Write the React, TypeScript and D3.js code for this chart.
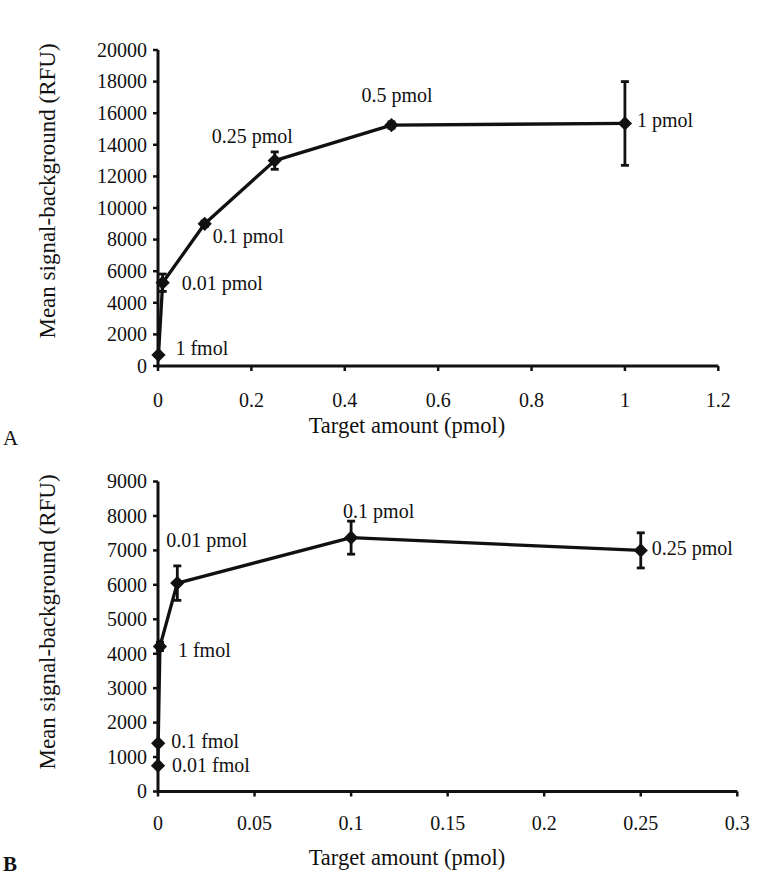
import React, { useEffect } from 'react';
import * as d3 from 'd3';

const W = 779;
const H = 878;

// Panel A data
const topX = [0.001, 0.01, 0.1, 0.25, 0.5, 1];
const topY = [700, 5270, 9000, 13000, 15250, 15350];
const topErr = [80, 550, 180, 550, 200, 2650];
const topLabels = ['1 fmol', '0.01 pmol', '0.1 pmol', '0.25 pmol', '0.5 pmol', '1 pmol'];
const topLabelDx = [17, 19, 8, -63, -30, 12];
const topLabelDy = [0, 7, 19, -18, -23, 4];
const topXTicks = [0, 0.2, 0.4, 0.6, 0.8, 1, 1.2];
const topYTicks = [0, 2000, 4000, 6000, 8000, 10000, 12000, 14000, 16000, 18000, 20000];

// Panel B data
const botX = [0.00001, 0.0001, 0.001, 0.01, 0.1, 0.25];
const botY = [750, 1400, 4210, 6050, 7370, 7000];
const botErr = [40, 60, 120, 500, 480, 510];
const botLabels = ['0.01 fmol', '0.1 fmol', '1 fmol', '0.01 pmol', '0.1 pmol', '0.25 pmol'];
const botLabelDx = [14, 13, 18, -11, -8, 11];
const botLabelDy = [6, 5, 11, -36, -20, 5];
const botXTicks = [0, 0.05, 0.1, 0.15, 0.2, 0.25, 0.3];
const botYTicks = [0, 1000, 2000, 3000, 4000, 5000, 6000, 7000, 8000, 9000];

const FONT = '"Liberation Serif", "Times New Roman", serif';
const INK = '#111';

type PanelProps = {
  xs: number[];
  ys: number[];
  errs: number[];
  labels: string[];
  ldx: number[];
  ldy: number[];
  xTicks: number[];
  yTicks: number[];
  xRange: [number, number];
  yRange: [number, number];
  tickBase: number;
  titleBase: number;
  yTitleCenter: number;
  letter: string;
  letterY: number;
  letterBold: boolean;
};

const diamond = (() => {
  const sym: any = (d3 as any).symbolDiamond2 || d3.symbolDiamond;
  return d3.symbol().type(sym).size(130)() as string;
})();

function Panel(p: PanelProps) {
  const x = d3.scaleLinear().domain([p.xTicks[0], p.xTicks[p.xTicks.length - 1]]).range(p.xRange);
  const y = d3.scaleLinear().domain([p.yTicks[0], p.yTicks[p.yTicks.length - 1]]).range(p.yRange);
  const line = d3
    .line<number>()
    .x((_, i) => x(p.xs[i]))
    .y((d) => y(d));
  const x0 = p.xRange[0];
  const y0 = p.yRange[0];
  return (
    <g>
      {/* axes */}
      <line x1={x0} x2={p.xRange[1]} y1={y0} y2={y0} stroke={INK} strokeWidth={3} />
      <line x1={x0} x2={x0} y1={y0 + 1.5} y2={p.yRange[1]} stroke={INK} strokeWidth={3} />
      {p.xTicks.map((t) => (
        <g key={'xt' + t}>
          <line x1={x(t)} x2={x(t)} y1={y0} y2={y0 + 5} stroke={INK} strokeWidth={2.5} />
          <text x={x(t)} y={p.tickBase} textAnchor="middle" fontFamily={FONT} fontSize={20} fill={INK}>
            {String(t)}
          </text>
        </g>
      ))}
      {p.yTicks.map((t) => (
        <g key={'yt' + t}>
          <line x1={x0 - 5} x2={x0} y1={y(t)} y2={y(t)} stroke={INK} strokeWidth={2.5} />
          <text
            x={x0 - 11}
            y={y(t)}
            dy="0.34em"
            textAnchor="end"
            fontFamily={FONT}
            fontSize={20}
            fill={INK}
          >
            {String(t)}
          </text>
        </g>
      ))}
      <text x={407} y={p.titleBase} textAnchor="middle" fontFamily={FONT} fontSize={22.5} fill={INK}>
        Target amount (pmol)
      </text>
      <text
        transform={`translate(55,${p.yTitleCenter}) rotate(-90)`}
        textAnchor="middle"
        fontFamily={FONT}
        fontSize={23}
        fill={INK}
      >
        Mean signal-background (RFU)
      </text>
      <text
        x={3}
        y={p.letterY}
        fontFamily={FONT}
        fontSize={21}
        fontWeight={p.letterBold ? 'bold' : 'normal'}
        fill={INK}
      >
        {p.letter}
      </text>
      {/* data line */}
      <path d={line(p.ys) || ''} fill="none" stroke={INK} strokeWidth={3.3} strokeLinejoin="round" />
      {/* error bars */}
      {p.ys.map((v, i) => {
        const cx = x(p.xs[i]);
        const top = y(v + p.errs[i]);
        const bot = y(v - p.errs[i]);
        return (
          <g key={'e' + i} stroke={INK} strokeWidth={2.8}>
            <line x1={cx} x2={cx} y1={top} y2={bot} />
            <line x1={cx - 4} x2={cx + 4} y1={top} y2={top} />
            <line x1={cx - 4} x2={cx + 4} y1={bot} y2={bot} />
          </g>
        );
      })}
      {/* markers */}
      {p.ys.map((v, i) => (
        <path key={'m' + i} d={diamond} transform={`translate(${x(p.xs[i])},${y(v)})`} fill={INK} />
      ))}
      {/* labels */}
      {p.ys.map((v, i) => (
        <text
          key={'l' + i}
          x={x(p.xs[i]) + p.ldx[i]}
          y={y(v) + p.ldy[i]}
          fontFamily={FONT}
          fontSize={20}
          fill={INK}
        >
          {p.labels[i]}
        </text>
      ))}
    </g>
  );
}

export default function App() {
  useEffect(() => {
    document.body.style.margin = '0';
  }, []);
  return (
    <svg
      width={W}
      height={H}
      viewBox={`0 0 ${W} ${H}`}
      style={{ position: 'absolute', left: 0, top: 0, background: '#fff', display: 'block' }}
    >
      <rect width={W} height={H} fill="#fff" />
      <Panel
        xs={topX}
        ys={topY}
        errs={topErr}
        labels={topLabels}
        ldx={topLabelDx}
        ldy={topLabelDy}
        xTicks={topXTicks}
        yTicks={topYTicks}
        xRange={[158, 718.3]}
        yRange={[366, 50]}
        tickBase={407}
        titleBase={433}
        yTitleCenter={191}
        letter="A"
        letterY={445}
        letterBold={false}
      />
      <Panel
        xs={botX}
        ys={botY}
        errs={botErr}
        labels={botLabels}
        ldx={botLabelDx}
        ldy={botLabelDy}
        xTicks={botXTicks}
        yTicks={botYTicks}
        xRange={[158, 737.3]}
        yRange={[791.5, 481.5]}
        tickBase={830}
        titleBase={865}
        yTitleCenter={622}
        letter="B"
        letterY={871}
        letterBold={true}
      />
    </svg>
  );
}
